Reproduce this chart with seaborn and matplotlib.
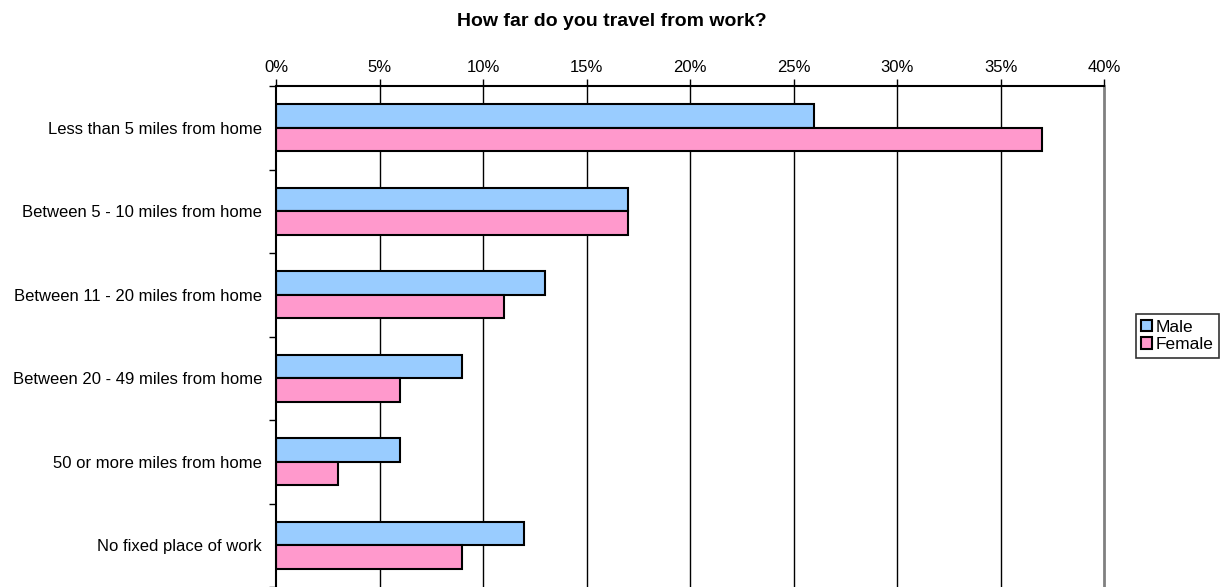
import matplotlib
matplotlib.use("Agg")
import matplotlib.pyplot as plt
from matplotlib.patches import Patch
from matplotlib.ticker import FixedLocator, PercentFormatter
import numpy as np
import pandas as pd
import seaborn as sns

categories = [
    "Less than 5 miles from home",
    "Between 5 - 10 miles from home",
    "Between 11 - 20 miles from home",
    "Between 20 - 49 miles from home",
    "50 or more miles from home",
    "No fixed place of work",
]
male = [26, 17, 13, 9, 6, 12]
female = [37, 17, 11, 6, 3, 9]
groups = ["Male", "Female"]
colors = ["#99CCFF", "#FF99CC"]
x_ticks = [0, 5, 10, 15, 20, 25, 30, 35, 40]

df = pd.DataFrame({
    "category": categories * 2,
    "value": male + female,
    "group": [groups[0]] * len(categories) + [groups[1]] * len(categories),
})

sns.set_style("white")
plt.rcParams["font.family"] = ["Liberation Sans", "DejaVu Sans"]
plt.rcParams["text.color"] = "black"
plt.rcParams["xtick.color"] = "black"
plt.rcParams["ytick.color"] = "black"
plt.rcParams["xtick.labelcolor"] = "black"
plt.rcParams["ytick.labelcolor"] = "black"

fig = plt.figure(figsize=(12.23, 5.87), dpi=100)
ax = fig.add_axes([276 / 1223, 0.0, (1104 - 276) / 1223, 1 - 86 / 587])

sns.barplot(data=df, y="category", x="value", hue="group", orient="h",
            palette=colors, width=0.56, edgecolor="black", linewidth=1.5,
            saturation=1, legend=False, ax=ax)

ax.set_xlim(0, 40)
ax.set_ylim(len(categories) - 0.5, -0.5)

# percentage axis along the top with vertical gridlines
ax.xaxis.tick_top()
ax.set_xticks(x_ticks)
ax.xaxis.set_major_formatter(PercentFormatter(decimals=0))
ax.tick_params(axis="x", which="major", direction="out", length=5, width=1,
               color="black", labelcolor="black", labelsize=12, pad=3)
for xv in x_ticks[1:-1]:
    ax.axvline(xv, color="black", lw=1, zorder=0)

# category labels, with tick marks at the group boundaries
ax.set_yticks(range(len(categories)))
ax.set_yticklabels(categories)
ax.tick_params(axis="y", which="major", length=0, labelsize=12, pad=10,
               labelcolor="black")
ax.yaxis.set_minor_locator(FixedLocator(np.arange(-0.5, len(categories), 1)))
ax.tick_params(axis="y", which="minor", direction="out", length=5, width=1,
               color="black", left=True)

ax.set_xlabel("")
ax.set_ylabel("")

for side in ["top", "left"]:
    ax.spines[side].set_visible(True)
    ax.spines[side].set_color("black")
    ax.spines[side].set_linewidth(1.5)
ax.spines["right"].set_visible(True)
ax.spines["right"].set_color("#808080")
ax.spines["right"].set_linewidth(2)
ax.spines["bottom"].set_visible(False)

fig.suptitle("How far do you travel from work?", fontsize=14,
             fontweight="bold", color="black", y=1 - 21 / 587, va="center")

handles = [Patch(facecolor=c, edgecolor="black", linewidth=1.5, label=g)
           for c, g in zip(colors, groups)]
leg = fig.legend(handles=handles, loc="center left",
                 bbox_to_anchor=(1136 / 1223, 1 - 336 / 587),
                 fontsize=12.5, frameon=True, fancybox=False,
                 handlelength=0.65, handleheight=0.65, handletextpad=0.2,
                 borderpad=0.3, labelspacing=0.15, borderaxespad=0)
leg.get_frame().set_edgecolor("black")
leg.get_frame().set_linewidth(1.2)
for t in leg.get_texts():
    t.set_color("black")

fig.savefig("out.png", dpi=100, facecolor="white")
